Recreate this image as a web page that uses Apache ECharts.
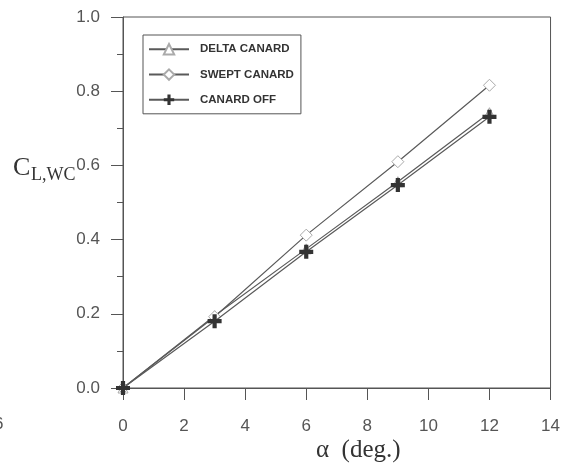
<!DOCTYPE html>
<html><head><meta charset="utf-8">
<script src="https://cdn.jsdelivr.net/npm/echarts@6/dist/echarts.min.js"></script>
<style>html,body{margin:0;padding:0;background:#fff}#c{width:563px;height:470px}</style>
</head><body><div id="c"></div>
<script>
const alpha = [0, 3, 6, 9, 12];
const deltaCanard = [0, 0.195, 0.375, 0.556, 0.742];
const sweptCanard = [0, 0.192, 0.412, 0.610, 0.816];
const canardOff = [0, 0.180, 0.367, 0.547, 0.731];
const seriesNames = ['DELTA CANARD', 'SWEPT CANARD', 'CANARD OFF'];

const pair = (xs, ys) => xs.map((x, i) => [x, ys[i]]);
const crossPath = 'path://M4.2,0 L7.8,0 L7.8,4.2 L12,4.2 L12,7.8 L7.8,7.8 L7.8,12 L4.2,12 L4.2,7.8 L0,7.8 L0,4.2 L4.2,4.2 Z';
const lineCol = '#5a5a5a';
const chart = echarts.init(document.getElementById('c'));
chart.setOption({
  animation: false,
  backgroundColor: '#fff',
  grid: { left: 123, right: 11, top: 17, bottom: 82, show: true, borderColor: '#555', borderWidth: 1, backgroundColor: 'transparent' },
  xAxis: {
    type: 'value', min: 0, max: 14, interval: 2,
    axisLine: { lineStyle: { color: '#555', width: 1 } },
    axisTick: { inside: false, length: 12, lineStyle: { color: '#555' } },
    axisLabel: { margin: 30, fontSize: 17, color: '#555', fontFamily: 'Liberation Sans, Arial' },
    splitLine: { show: false }
  },
  yAxis: {
    type: 'value', min: 0, max: 1, interval: 0.2,
    axisLine: { show: true, lineStyle: { color: '#555', width: 1 } },
    axisTick: { show: true, inside: false, length: 12, lineStyle: { color: '#555' } },
    minorTick: { show: true, splitNumber: 2, length: 6, lineStyle: { color: '#555' } },
    axisLabel: { margin: 23, fontSize: 17, color: '#555', fontFamily: 'Liberation Sans, Arial', formatter: v => v.toFixed(1) },
    splitLine: { show: false }
  },
  legend: {
    orient: 'vertical', left: 143, top: 35, width: 149,
    padding: [8, 7, 8, 5], itemGap: 13, itemWidth: 40, itemHeight: 13,
    borderColor: '#555', borderWidth: 1, backgroundColor: 'transparent',
    textStyle: { fontFamily: 'Liberation Sans, Arial', fontWeight: 'bold', fontSize: 11.5, color: '#333', padding: [0, 0, 0, 6] },
    data: seriesNames
  },
  series: [
    { name: seriesNames[0], type: 'line', data: pair(alpha, deltaCanard), symbol: 'triangle', symbolSize: 10,
      lineStyle: { color: lineCol, width: 1.2 }, itemStyle: { color: '#fff', borderColor: '#aaa', borderWidth: 1 }, z: 2 },
    { name: seriesNames[1], type: 'line', data: pair(alpha, sweptCanard), symbol: 'diamond', symbolSize: 12,
      lineStyle: { color: lineCol, width: 1.2 }, itemStyle: { color: '#fff', borderColor: '#aaa', borderWidth: 1 }, z: 3 },
    { name: seriesNames[2], type: 'line', data: pair(alpha, canardOff), symbol: crossPath, symbolSize: 14,
      lineStyle: { color: lineCol, width: 1.2 }, itemStyle: { color: '#333', borderWidth: 0 }, z: 4 }
  ],
  graphic: [
    { type: 'text', left: 13, top: 155, style: { text: 'C', font: '26px "Liberation Serif", "Times New Roman", serif', fill: '#333' } },
    { type: 'text', left: 31, top: 166, style: { text: 'L,WC', font: '18px "Liberation Serif", "Times New Roman", serif', fill: '#333' } },
    { type: 'text', left: 316, top: 438, style: { text: 'α  (deg.)', font: '25px "Liberation Serif", "Times New Roman", serif', fill: '#333' } },
    { type: 'text', left: -6, top: 416, style: { text: '6', font: '17px "Liberation Sans", Arial', fill: '#555' } }
  ]
});
</script></body></html>
